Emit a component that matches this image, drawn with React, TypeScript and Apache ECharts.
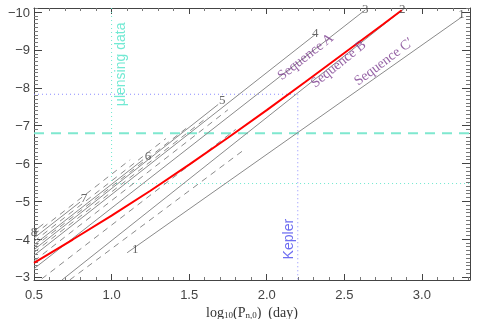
import React, { useEffect, useRef } from "react";
import * as echarts from "echarts";

// Axis extents
const X_MIN = 0.5;
const X_MAX = 3.31;
const Y_MIN = -10.11;
const Y_MAX = -2.92;

// Solid model tracks 1..8
const track1 = [[1.1, -3.64], [3.26, -9.88]];
const track2 = [[0.68, -2.92], [2.874, -10.06]];
const track3 = [[0.5, -3.22], [2.635, -10.06]];
const track4 = [[0.5, -3.57], [2.313, -9.41]];
const track5 = [[0.5, -3.72], [1.687, -7.56]];
const track6 = [[0.5, -3.85], [1.203, -6.1]];
const track7 = [[0.5, -4.03], [0.797, -4.98]];
const track8 = [[0.5, -4.21], [0.56, -4.4]];

// Dashed intermediate tracks
const dashA = [[0.5, -4.12], [1.12, -6.1]];
const dashB = [[0.5, -3.94], [1.35, -6.66]];
const dashC = [[0.5, -3.79], [1.5, -6.99]];
const dashD = [[0.5, -3.65], [1.62, -7.23]];
const dashE = [[0.5, -3.42], [1.75, -7.42]];
const dashF = [[0.55, -2.95], [1.8, -6.9]];
const dashG = [[0.73, -2.92], [1.85, -6.35]];

// Red track
const redTrack = [
  [0.5, -3.37], [0.75, -3.99], [1.0, -4.62], [1.25, -5.28], [1.5, -5.97],
  [1.75, -6.68], [2.0, -7.41], [2.25, -8.16], [2.5, -8.92], [2.75, -9.68], [2.87, -10.05],
];

// Reference lines
const keplerH = [[0.5, -7.83], [2.2, -7.83]];
const keplerV = [[2.2, -7.83], [2.2, -2.92]];
const lensingDotted = [[1.0, -10.11], [1.0, -5.47], [3.31, -5.47]];
const cyanDashed = [[0.5, -6.8], [3.31, -6.8]];

// Track number labels [x, y, text]
const trackLabels = [
  [1.152, -3.75, "1"], [3.255, -9.96, "1"], [2.874, -10.1, "2"], [2.635, -10.1, "3"],
  [2.313, -9.46, "4"], [1.713, -7.69, "5"], [1.235, -6.22, "6"], [0.823, -5.1, "7"], [0.5, -4.2, "8"],
];

// Sequence labels [x, y, text, angle]
const sequenceLabels = [
  [2.248, -8.83, "Sequence A", 38],
  [2.46, -8.64, "Sequence B", 39],
  [2.752, -8.7, "Sequence C′", 37],
];

const keplerLabel = [2.139, -4.0, "Kepler"];
const lensingLabel = [1.055, -8.62, "μlensing data"];

const GRAY = "#8a8a8a";
const AXIS = "#444";

function lineSeries(data: number[][], style: any, z = 2) {
  return { type: "line", data, symbol: "none", silent: true, z, lineStyle: style, animation: false };
}

export default function App() {
  const ref = useRef<HTMLDivElement>(null);
  useEffect(() => {
    const chart = echarts.init(ref.current!, null, { renderer: "svg" });
    const solid = [track1, track2, track3, track4, track5, track6, track7, track8];
    const dashed = [dashA, dashB, dashC, dashD, dashE, dashF, dashG];
    const yAxisBase = {
      type: "value", inverse: true, min: Y_MIN, max: Y_MAX, splitNumber: 7,
      axisLine: { show: true, lineStyle: { color: AXIS } },
      axisTick: { inside: true, length: 8, lineStyle: { color: AXIS } },
      minorTick: { show: true, splitNumber: 10, length: 4, lineStyle: { color: "#777" } },
      splitLine: { show: false },
    };
    const xAxisBase = {
      type: "value", min: X_MIN, max: X_MAX, interval: 0.5,
      axisLine: { show: true, lineStyle: { color: AXIS } },
      axisTick: { inside: true, length: 6, lineStyle: { color: AXIS } },
      minorTick: { show: true, splitNumber: 5, length: 3, lineStyle: { color: "#777" } },
      splitLine: { show: false },
    };
    const series: any[] = [];
    solid.forEach((d) => series.push(lineSeries(d, { color: GRAY, width: 1 })));
    dashed.forEach((d) => series.push(lineSeries(d, { color: GRAY, width: 1, type: [6, 5] })));
    series.push(lineSeries(keplerH, { color: "#8c8cff", width: 1, type: [1, 3] }, 1));
    series.push(lineSeries(keplerV, { color: "#8c8cff", width: 1, type: [1, 3] }, 1));
    series.push(lineSeries(lensingDotted, { color: "#6ee8cf", width: 1, type: [1, 3] }, 1));
    series.push(lineSeries(cyanDashed, { color: "#7fe8cf", width: 2, type: [10, 7] }, 1));
    series.push(lineSeries(redTrack, { color: "#ff0000", width: 2 }, 5));
    series.push({
      type: "scatter", symbolSize: 0, silent: true, clip: false, z: 6,
      data: trackLabels.map((t) => ({ value: t })),
      label: {
        show: true, position: "inside", formatter: (p: any) => p.value[2],
        fontFamily: "Liberation Serif", fontSize: 13, color: "#444",
      },
    });
    series.push({
      type: "scatter", symbolSize: 0, silent: true, clip: false, z: 6,
      data: sequenceLabels.map((t) => ({ value: t, label: { rotate: t[3] } })),
      label: {
        show: true, position: "inside", formatter: (p: any) => p.value[2],
        fontFamily: "Liberation Serif", fontSize: 14, color: "#7a3b8f",
      },
    });
    series.push({
      type: "scatter", symbolSize: 0, silent: true, clip: false, z: 6,
      data: [
        { value: keplerLabel, label: { color: "#4a4aee" } },
        { value: lensingLabel, label: { color: "#4fe3c8" } },
      ],
      label: {
        show: true, position: "inside", rotate: 90, formatter: (p: any) => p.value[2],
        fontFamily: "Liberation Sans", fontSize: 14,
      },
    });
    chart.setOption({
      animation: false,
      grid: { left: 34, right: 10, top: 8, bottom: 39, outerBoundsMode: "none", containLabel: false },
      xAxis: [
        {
          ...xAxisBase, position: "bottom",
          name: "log{s|10}(P{s|n,0})  (day)", nameLocation: "middle", nameGap: 20,
          nameTextStyle: {
            fontFamily: "Liberation Serif", fontSize: 14, color: "#333", verticalAlign: "top",
            rich: { s: { fontFamily: "Liberation Serif", fontSize: 9, color: "#333", verticalAlign: "bottom", padding: [5, 0, 0, 0] } },
          },
          axisLabel: {
            color: AXIS, fontFamily: "Liberation Sans", fontSize: 13, margin: 8, showMaxLabel: false,
            formatter: (v: number) => (Math.abs(v * 2 - Math.round(v * 2)) < 1e-6 ? v.toFixed(1) : ""),
          },
        },
        { ...xAxisBase, position: "top", axisLabel: { show: false } },
      ],
      yAxis: [
        {
          ...yAxisBase, position: "left",
          axisLabel: {
            color: AXIS, fontFamily: "Liberation Sans", fontSize: 13, margin: 4,
            showMinLabel: false, showMaxLabel: false,
            formatter: (v: number) => (Math.abs(v - Math.round(v)) < 1e-6 ? "\u2212" + Math.abs(Math.round(v)) : ""),
          },
        },
        { ...yAxisBase, position: "right", axisLabel: { show: false } },
      ],
      series,
    });
    return () => chart.dispose();
  }, []);
  return <div ref={ref} style={{ position: "fixed", left: 0, top: 0, width: 480, height: 319 }} />;
}
